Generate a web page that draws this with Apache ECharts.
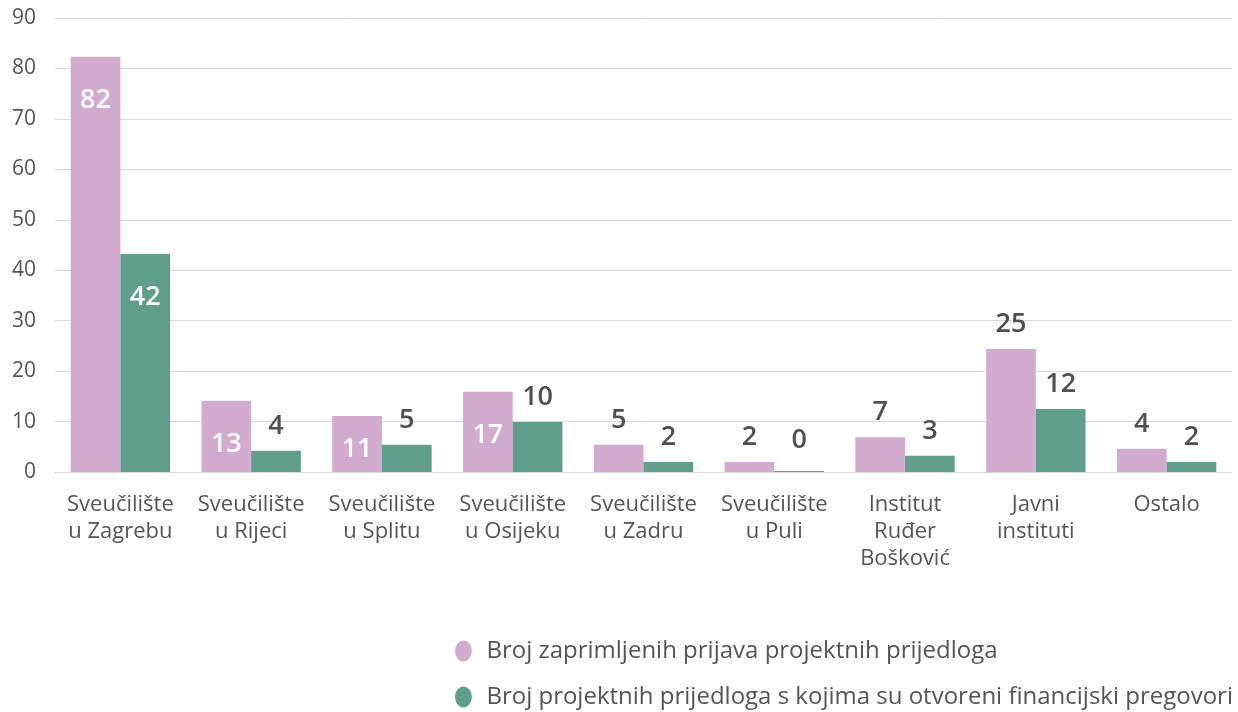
<!DOCTYPE html>
<html>
<head>
<meta charset="utf-8">
<script src="https://cdn.jsdelivr.net/npm/echarts@6/dist/echarts.min.js"></script>
<style>
  html, body { margin: 0; padding: 0; background: #fff; }
  #chart { width: 1238px; height: 712px; }
</style>
</head>
<body>
<div id="chart"></div>
<script>
// kategorije (x os)
var categories = [
  'Sveučilište\nu Zagrebu', 'Sveučilište\nu Rijeci', 'Sveučilište\nu Splitu',
  'Sveučilište\nu Osijeku', 'Sveučilište\nu Zadru', 'Sveučilište\nu Puli',
  'Institut\nRuđer\nBošković', 'Javni\ninstituti', 'Ostalo'
];
var seriesNames = [
  'Broj zaprimljenih prijava projektnih prijedloga',
  'Broj projektnih prijedloga s kojima su otvoreni financijski pregovori'
];
// visine stupaca kako su nacrtane
var prijaveHeights = [82.3, 14.1, 11.1, 15.9, 5.4, 2, 6.9, 24.4, 4.6];
var pregovoriHeights = [43.2, 4.2, 5.4, 9.9, 2, 0.2, 3.2, 12.5, 2];
// oznake na stupcima
var prijaveLabels = [82, 13, 11, 17, 5, 2, 7, 25, 4];
var pregovoriLabels = [42, 4, 5, 10, 2, 0, 3, 12, 2];
var yTicks = [0, 10, 20, 30, 40, 50, 60, 70, 80, 90];

var colors = ['#D2ABCF', '#5F9E8D'];
var font = '"Open Sans", "Noto Sans", sans-serif';

// prva cetiri sveucilista imaju bijelu oznaku unutar visokih stupaca
function buildData(heights, labels) {
  return heights.map(function (h, i) {
    var inside = i < 4 && h > 10;
    return {
      value: h,
      label: inside ? {
        position: 'insideTop',
        distance: h < 12 ? 20 : 30,
        color: '#fff'
      } : {
        position: 'top',
        distance: labels[i] === 0 ? 17 : 11,
        color: '#505050'
      }
    };
  });
}

function makeSeries(idx, heights, labels) {
  return {
    name: seriesNames[idx],
    type: 'bar',
    barGap: '0%',
    barCategoryGap: '24%',
    itemStyle: { color: colors[idx] },
    label: {
      show: true,
      fontSize: 27,
      fontWeight: 600,
      fontFamily: font,
      formatter: function (p) { return String(labels[p.dataIndex]); }
    },
    data: buildData(heights, labels)
  };
}

// po jedna legenda za svaki red (da se ne prelama)
function makeLegend(idx, top) {
  return {
    orient: 'vertical',
    left: 455,
    top: top,
    padding: 0,
    itemWidth: 18,
    itemHeight: 21,
    icon: 'path://M0,10 A8,10 0 1,1 16,10 A8,10 0 1,1 0,10 Z',
    textStyle: { fontSize: 24, color: '#555', fontFamily: font, padding: [0, 0, 0, 9] },
    data: [seriesNames[idx]]
  };
}

var chart = echarts.init(document.getElementById('chart'), null, { renderer: 'canvas' });
chart.setOption({
  animation: false,
  textStyle: { fontFamily: font },
  grid: { left: 55, right: 6, top: 18, bottom: 240, containLabel: false },
  legend: [makeLegend(0, 639), makeLegend(1, 685)],
  xAxis: {
    type: 'category',
    data: categories,
    axisLine: { show: true, lineStyle: { color: '#d9d9d9', width: 1 } },
    axisTick: { show: false },
    axisLabel: {
      interval: 0,
      color: '#555',
      fontSize: 22,
      lineHeight: 27,
      margin: 19,
      fontFamily: font
    }
  },
  yAxis: {
    type: 'value',
    min: yTicks[0],
    max: yTicks[yTicks.length - 1],
    interval: 10,
    axisLine: { show: false },
    axisTick: { show: false },
    axisLabel: { color: '#555', fontSize: 21, margin: 19, fontFamily: font },
    splitLine: { lineStyle: { color: '#d9d9d9', width: 1 } }
  },
  series: [
    makeSeries(0, prijaveHeights, prijaveLabels),
    makeSeries(1, pregovoriHeights, pregovoriLabels)
  ]
});
</script>
</body>
</html>
